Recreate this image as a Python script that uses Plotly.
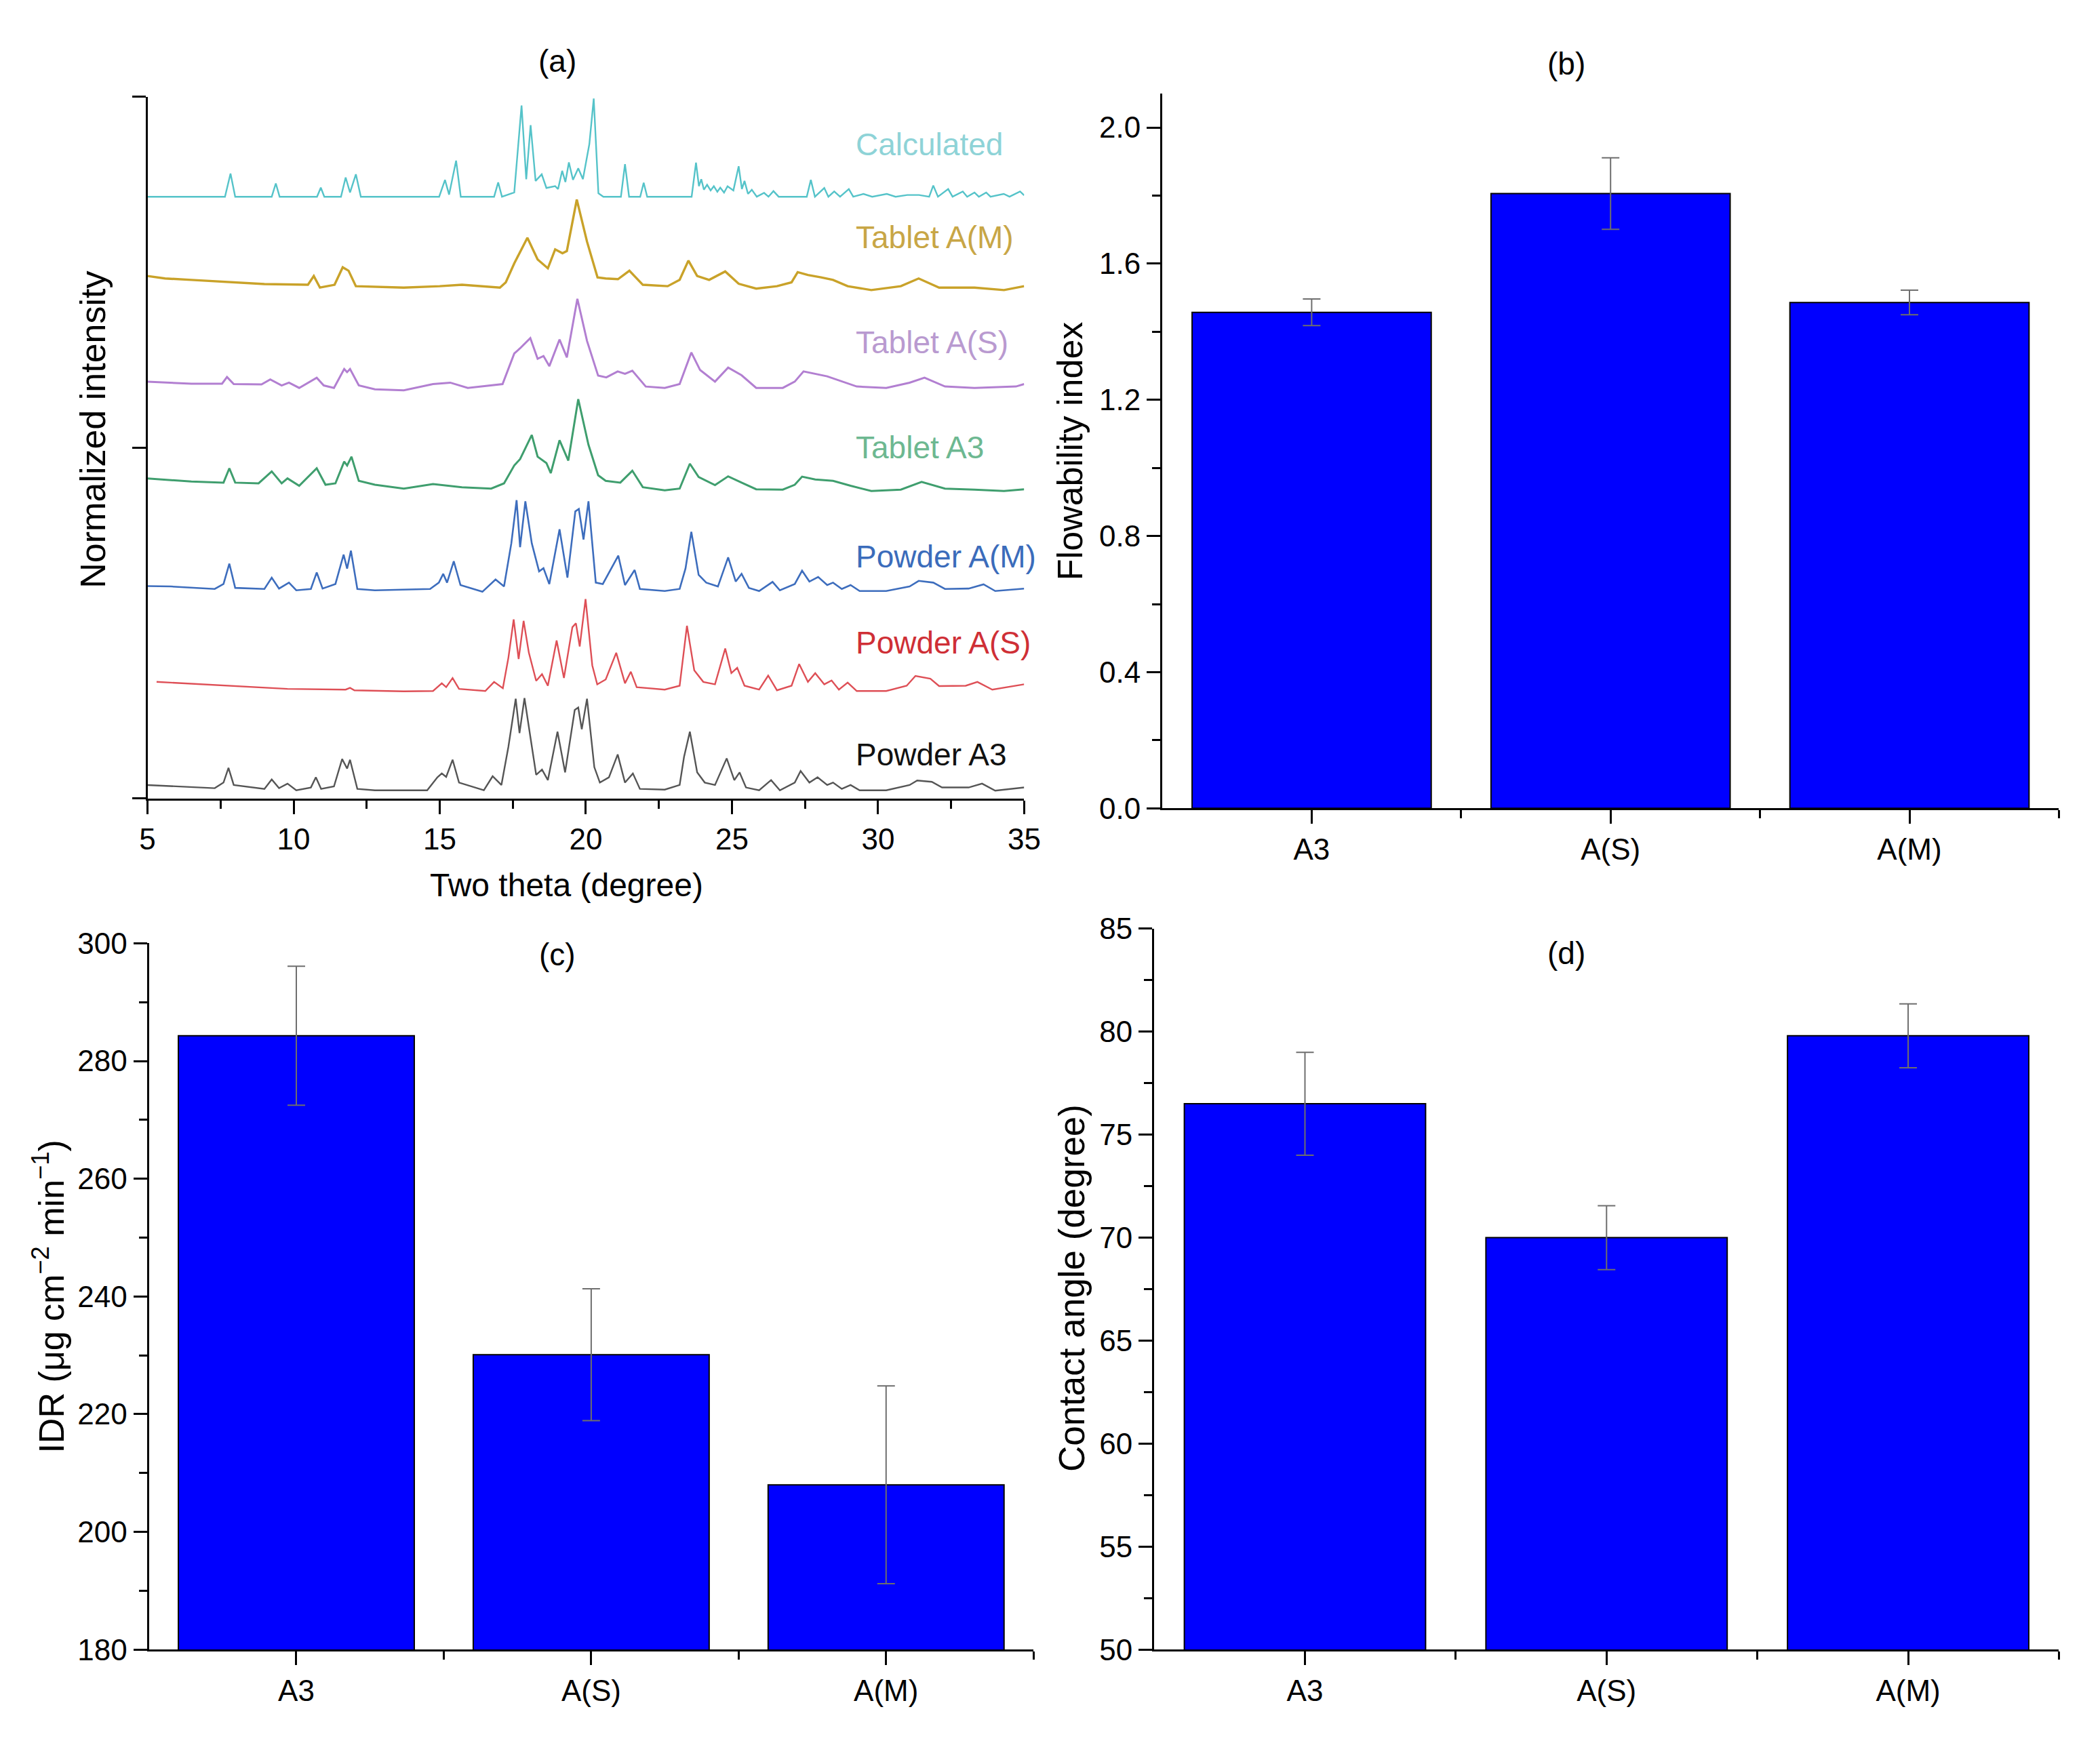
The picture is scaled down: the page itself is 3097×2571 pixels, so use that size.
import plotly.graph_objects as go

W, H = 3097, 2571

# ---------------- (a) XRD patterns ----------------
# (two theta, intensity above the pattern's own baseline)
calc_pts = [(5.0, 0), (7.65, 0), (7.84, 0.066), (8.0, 0), (9.25, 0), (9.39, 0.038), (9.52, 0),
            (10.8, 0), (10.93, 0.026), (11.05, 0), (11.62, 0), (11.78, 0.055), (11.93, 0.012),
            (12.13, 0.064), (12.3, 0), (14.98, 0), (15.18, 0.048), (15.32, 0.006), (15.56, 0.103),
            (15.72, 0), (16.86, 0), (17.0, 0.041), (17.13, 0), (17.55, 0.012), (17.8, 0.26),
            (17.96, 0.05), (18.11, 0.204), (18.28, 0.045), (18.49, 0.064), (18.65, 0.025),
            (18.95, 0.03), (19.05, 0.022), (19.19, 0.074), (19.3, 0.042), (19.42, 0.098),
            (19.56, 0.048), (19.74, 0.081), (19.9, 0.05), (20.12, 0.15), (20.27, 0.28),
            (20.43, 0.01), (20.6, 0), (21.2, 0), (21.34, 0.093), (21.48, 0), (21.86, 0),
            (21.98, 0.04), (22.1, 0), (23.62, 0), (23.77, 0.097), (23.87, 0.03), (23.95, 0.05),
            (24.04, 0.02), (24.15, 0.034), (24.27, 0.018), (24.38, 0.03), (24.5, 0.014),
            (24.6, 0.026), (24.73, 0.012), (24.85, 0.03), (25.05, 0.018), (25.23, 0.087),
            (25.34, 0.022), (25.43, 0.045), (25.55, 0.008), (25.68, 0.02), (25.85, 0),
            (26.1, 0.011), (26.25, 0), (26.42, 0.016), (26.6, 0), (27.56, 0), (27.7, 0.048),
            (27.84, 0), (28.16, 0.025), (28.3, 0), (28.5, 0.015), (28.7, 0), (29.0, 0.022),
            (29.15, 0), (29.5, 0.008), (29.8, 0), (30.3, 0.008), (30.6, 0), (31.0, 0.005),
            (31.4, 0.005), (31.75, 0), (31.89, 0.032), (32.05, 0), (32.4, 0.022), (32.55, 0),
            (32.9, 0.015), (33.05, 0), (33.3, 0.012), (33.45, 0), (33.7, 0.012), (33.85, 0),
            (34.3, 0.008), (34.5, 0), (34.86, 0.015), (35.0, 0.004)]

tab_m_pts = [(5.0, 0.029), (5.6, 0.022), (6.5, 0.018), (7.8, 0.011), (9.0, 0.006), (10.49, 0.004),
             (10.69, 0.029), (10.9, -0.004), (11.4, 0.004), (11.68, 0.054), (11.88, 0.044),
             (12.13, 0.0), (13.0, -0.002), (13.77, -0.004), (15.0, 0.0), (15.76, 0.004),
             (17.06, -0.004), (17.26, 0.011), (17.55, 0.065), (18.0, 0.138), (18.35, 0.076),
             (18.7, 0.051), (18.95, 0.105), (19.2, 0.094), (19.35, 0.1), (19.69, 0.247),
             (20.04, 0.127), (20.4, 0.025), (20.68, 0.022), (21.1, 0.02), (21.49, 0.044),
             (21.95, 0.004), (22.8, 0.0), (23.21, 0.018), (23.51, 0.073), (23.81, 0.029),
             (24.22, 0.018), (24.77, 0.042), (25.23, 0.007), (25.83, -0.007), (26.54, 0.0),
             (27.04, 0.011), (27.25, 0.04), (27.6, 0.032), (28.05, 0.025), (28.46, 0.018),
             (28.96, 0.0), (29.77, -0.011), (30.78, 0.0), (31.39, 0.022), (32.09, -0.004),
             (33.3, -0.004), (34.31, -0.011), (35.0, 0.0)]

tab_s_pts = [(5.0, 0.018), (6.5, 0.012), (7.55, 0.012), (7.72, 0.031), (7.95, 0.011), (8.9, 0.01),
             (9.2, 0.024), (9.59, 0.007), (9.84, 0.015), (10.19, 0.0), (10.79, 0.029),
             (11.03, 0.007), (11.38, 0.0), (11.73, 0.054), (11.83, 0.045), (11.93, 0.054),
             (12.23, 0.007), (12.78, -0.004), (13.77, -0.007), (14.77, 0.011), (15.36, 0.015),
             (15.96, 0.0), (17.15, 0.011), (17.55, 0.098), (17.75, 0.113), (18.1, 0.142),
             (18.35, 0.083), (18.55, 0.091), (18.75, 0.062), (19.1, 0.138), (19.35, 0.087),
             (19.71, 0.254), (20.04, 0.134), (20.42, 0.035), (20.7, 0.03), (21.09, 0.047),
             (21.34, 0.04), (21.59, 0.049), (22.05, 0.004), (22.7, 0.0), (23.21, 0.011),
             (23.61, 0.101), (23.91, 0.051), (24.42, 0.018), (24.87, 0.058), (25.33, 0.036),
             (25.83, 0.0), (26.74, 0.0), (27.15, 0.018), (27.45, 0.047), (28.26, 0.033),
             (28.76, 0.018), (29.27, 0.004), (30.28, 0.0), (31.08, 0.015), (31.59, 0.029),
             (32.29, 0.004), (33.3, 0.0), (34.72, 0.004), (35.0, 0.011)]

tab_3_pts = [(5.0, 0.025), (6.5, 0.016), (7.6, 0.013), (7.8, 0.054), (8.0, 0.013), (8.8, 0.011),
             (9.25, 0.045), (9.59, 0.011), (9.79, 0.025), (10.19, 0.004), (10.79, 0.054),
             (11.09, 0.007), (11.43, 0.011), (11.73, 0.073), (11.83, 0.062), (11.98, 0.087),
             (12.23, 0.018), (12.78, 0.007), (13.77, -0.004), (14.77, 0.009), (15.76, 0.0),
             (16.76, -0.004), (17.2, 0.011), (17.55, 0.062), (17.75, 0.08), (18.15, 0.149),
             (18.35, 0.087), (18.65, 0.069), (18.8, 0.04), (19.1, 0.134), (19.4, 0.076),
             (19.74, 0.251), (20.09, 0.121), (20.42, 0.034), (20.68, 0.018), (21.18, 0.013),
             (21.59, 0.047), (21.95, 0.0), (22.7, -0.009), (23.21, -0.004), (23.56, 0.067),
             (23.86, 0.029), (24.42, 0.006), (24.87, 0.031), (25.33, 0.013), (25.83, -0.006),
             (26.74, -0.007), (27.15, 0.007), (27.4, 0.03), (27.85, 0.022), (28.46, 0.018),
             (29.06, 0.004), (29.77, -0.011), (30.78, -0.007), (31.49, 0.015), (32.29, -0.004),
             (33.3, -0.007), (34.31, -0.011), (35.0, -0.006)]

pow_m_pts = [(5.0, 0.012), (5.8, 0.011), (7.3, 0.004), (7.6, 0.018), (7.8, 0.076), (8.0, 0.007),
             (9.0, 0.004), (9.25, 0.036), (9.5, 0.005), (9.84, 0.022), (10.09, 0.0), (10.59, 0.004),
             (10.79, 0.051), (10.99, 0.005), (11.43, 0.018), (11.71, 0.102), (11.83, 0.062),
             (11.96, 0.113), (12.18, 0.004), (12.78, 0.0), (14.67, 0.004), (14.97, 0.022),
             (15.12, 0.047), (15.25, 0.022), (15.48, 0.083), (15.71, 0.015), (16.46, -0.004),
             (16.91, 0.031), (17.2, 0.011), (17.45, 0.134), (17.63, 0.257), (17.75, 0.123),
             (17.93, 0.254), (18.15, 0.134), (18.4, 0.054), (18.55, 0.063), (18.75, 0.018),
             (19.1, 0.174), (19.37, 0.036), (19.64, 0.225), (19.76, 0.232), (19.92, 0.145),
             (20.09, 0.254), (20.34, 0.022), (20.58, 0.018), (21.11, 0.099), (21.34, 0.015),
             (21.67, 0.058), (21.85, 0.004), (22.7, -0.002), (23.21, 0.004), (23.41, 0.062),
             (23.61, 0.167), (23.86, 0.044), (24.12, 0.022), (24.52, 0.011), (24.87, 0.094),
             (25.13, 0.025), (25.33, 0.047), (25.58, 0.007), (25.93, -0.002), (26.39, 0.024),
             (26.64, 0.0), (27.15, 0.018), (27.4, 0.056), (27.65, 0.025), (27.95, 0.038),
             (28.26, 0.015), (28.46, 0.022), (28.76, 0.004), (29.06, 0.015), (29.37, -0.002),
             (30.28, -0.002), (31.08, 0.011), (31.39, 0.027), (31.89, 0.022), (32.29, 0.004),
             (33.1, 0.005), (33.61, 0.017), (34.01, -0.002), (35.0, 0.005)]

pow_s_pts = [(5.31, 0.027), (7.5, 0.017), (9.79, 0.007), (11.78, 0.005), (11.93, 0.01), (12.08, 0.003),
             (13.77, 0.0), (14.77, 0.001), (15.07, 0.023), (15.22, 0.012), (15.44, 0.038),
             (15.66, 0.007), (16.56, 0.001), (16.86, 0.027), (17.16, 0.009), (17.35, 0.096),
             (17.53, 0.205), (17.7, 0.092), (17.87, 0.201), (18.05, 0.11), (18.3, 0.03),
             (18.5, 0.049), (18.7, 0.016), (19.0, 0.145), (19.25, 0.038), (19.54, 0.183),
             (19.66, 0.194), (19.79, 0.128), (19.99, 0.263), (20.22, 0.074), (20.39, 0.02),
             (20.68, 0.034), (21.04, 0.11), (21.34, 0.023), (21.54, 0.056), (21.74, 0.012),
             (22.7, 0.005), (23.21, 0.016), (23.46, 0.187), (23.71, 0.06), (24.02, 0.027),
             (24.42, 0.02), (24.77, 0.122), (24.98, 0.052), (25.18, 0.067), (25.43, 0.016),
             (25.93, 0.005), (26.24, 0.045), (26.54, 0.003), (27.04, 0.016), (27.3, 0.078),
             (27.6, 0.027), (27.85, 0.052), (28.16, 0.02), (28.41, 0.031), (28.66, 0.005),
             (28.96, 0.025), (29.27, 0.001), (30.28, 0.001), (30.98, 0.016), (31.28, 0.044),
             (31.79, 0.036), (32.09, 0.015), (33.0, 0.016), (33.4, 0.027), (33.91, 0.005),
             (35.0, 0.02)]

pow_3_pts = [(5.0, 0.011), (7.3, 0.002), (7.6, 0.018), (7.77, 0.06), (7.95, 0.011), (9.0, 0.0),
             (9.25, 0.027), (9.5, 0.002), (9.79, 0.015), (10.09, -0.004), (10.59, 0.004),
             (10.76, 0.033), (10.94, 0.0), (11.38, 0.007), (11.66, 0.085), (11.83, 0.058),
             (11.93, 0.083), (12.18, 0.0), (12.78, -0.004), (14.57, -0.004), (14.92, 0.033),
             (15.07, 0.044), (15.22, 0.034), (15.44, 0.083), (15.66, 0.018), (16.51, -0.004),
             (16.81, 0.036), (17.11, 0.011), (17.35, 0.12), (17.6, 0.257), (17.73, 0.159),
             (17.9, 0.259), (18.1, 0.149), (18.3, 0.04), (18.5, 0.055), (18.7, 0.025),
             (19.03, 0.163), (19.29, 0.047), (19.62, 0.225), (19.74, 0.232), (19.86, 0.17),
             (20.04, 0.257), (20.29, 0.062), (20.48, 0.018), (20.79, 0.033), (21.09, 0.098),
             (21.34, 0.018), (21.61, 0.044), (21.85, 0.0), (22.7, -0.002), (23.21, 0.011),
             (23.36, 0.091), (23.56, 0.163), (23.81, 0.047), (24.07, 0.018), (24.42, 0.011),
             (24.82, 0.087), (25.08, 0.025), (25.26, 0.047), (25.48, 0.004), (25.93, -0.004),
             (26.34, 0.025), (26.64, -0.004), (27.15, 0.018), (27.35, 0.051), (27.65, 0.018),
             (27.93, 0.033), (28.26, 0.011), (28.46, 0.018), (28.76, 0.0), (29.06, 0.011),
             (29.37, -0.004), (30.28, -0.004), (31.08, 0.011), (31.34, 0.024), (31.84, 0.02),
             (32.19, 0.004), (33.1, 0.004), (33.56, 0.015), (34.01, -0.005), (35.0, 0.004)]

xrd_names = ["Calculated", "Tablet A(M)", "Tablet A(S)", "Tablet A3",
             "Powder A(M)", "Powder A(S)", "Powder A3"]
xrd_data = [calc_pts, tab_m_pts, tab_s_pts, tab_3_pts, pow_m_pts, pow_s_pts, pow_3_pts]
xrd_offsets = [1.715, 1.46, 1.17, 0.887, 0.593, 0.305, 0.027]
xrd_label_y = [1.865, 1.60, 1.30, 1.0, 0.69, 0.444, 0.125]
line_colors = ["#55c3c9", "#c9a229", "#b27fd1", "#3f9e6e", "#3d6dbd", "#de4f56", "#555555"]
label_colors = ["#8ed3d7", "#c8a646", "#b99ad0", "#6db891", "#3b6cbb", "#cf2f36", "#111111"]
line_widths = [2.4, 3.4, 3.0, 3.0, 2.6, 2.4, 2.4]

# ---------------- (b)-(d) bar charts ----------------
samples = ["A3", "A(S)", "A(M)"]
flow_mean = [1.457, 1.806, 1.486]
flow_err = [0.039, 0.105, 0.036]
idr_mean = [284.3, 230.1, 208.0]
idr_err = [11.8, 11.2, 16.8]
angle_mean = [76.5, 70.0, 79.8]
angle_err = [2.5, 1.55, 1.55]

FONT = "Liberation Sans, Arial, sans-serif"
BLUE = "#0000ff"


def fx(px):
    return px / W


def fy(py):
    return 1 - py / H


fig = go.Figure()

for name, pts, off, col, lw in zip(xrd_names, xrd_data, xrd_offsets, line_colors, line_widths):
    xs = [p[0] for p in pts]
    ys = [p[1] + off for p in pts]
    fig.add_trace(go.Scatter(x=xs, y=ys, mode="lines", name=name,
                             line=dict(color=col, width=lw), xaxis="x", yaxis="y"))

idx = list(range(len(samples)))
for (mean, err), ax in zip([(flow_mean, flow_err), (idr_mean, idr_err), (angle_mean, angle_err)],
                           ["2", "3", "4"]):
    fig.add_trace(go.Bar(x=idx, y=mean, width=0.8, xaxis="x" + ax, yaxis="y" + ax,
                         marker=dict(color=BLUE, line=dict(color="black", width=2)),
                         error_y=dict(type="data", array=err, color="#6e6e6e",
                                      thickness=2, width=13)))

base = dict(showline=True, linecolor="black", linewidth=3, ticks="outside", ticklen=20,
            tickwidth=3, tickcolor="black", showgrid=False, zeroline=False,
            tickfont=dict(family=FONT, size=44, color="black"))
minor = dict(ticks="outside", ticklen=12, tickwidth=3, tickcolor="black", showgrid=False)


def bar_x(domain, anchor):
    return dict(base, domain=domain, anchor=anchor, range=[-0.5, 2.5], tickvals=idx,
                ticktext=samples, minor=dict(minor, tickvals=[0.5, 1.5, 2.5]))


fig.update_layout(
    width=W, height=H, margin=dict(l=0, r=0, t=0, b=0),
    paper_bgcolor="white", plot_bgcolor="white", showlegend=False,
    font=dict(family=FONT, color="black"),
    xaxis=dict(base, domain=[fx(208), fx(1516)], anchor="y", range=[5, 35], dtick=5, tick0=5,
               minor=dict(minor, dtick=2.5, tick0=5)),
    yaxis=dict(base, domain=[fy(1175), fy(120)], anchor="x", range=[0, 2],
               tickvals=[0, 1, 2], showticklabels=False),
    xaxis2=bar_x([fx(1722), fx(3060)], "y2"),
    yaxis2=dict(base, domain=[fy(1190), fy(115)], anchor="x2", range=[0, 2.1], dtick=0.4,
                tickformat=".1f", minor=dict(minor, dtick=0.2)),
    xaxis3=bar_x([fx(210), fx(1530)], "y3"),
    yaxis3=dict(base, domain=[fy(2455), fy(1393)], anchor="x3", range=[180, 300], dtick=20,
                minor=dict(minor, dtick=10)),
    xaxis4=bar_x([fx(1710), fx(3060)], "y4"),
    yaxis4=dict(base, domain=[fy(2455), fy(1371)], anchor="x4", range=[50, 85], dtick=5,
                minor=dict(minor, dtick=2.5)),
)

notes = [
    ("(a)", 820, 66, 0, 46), ("(b)", 2325, 70, 0, 46),
    ("(c)", 820, 1410, 0, 46), ("(d)", 2325, 1408, 0, 46),
    ("Normalized intensity", 127, 621, -90, 52),
    ("Two theta (degree)", 833, 1305, 0, 48),
    ("Flowability index", 1584, 653, -90, 52),
    ("IDR (μg cm<sup>−2</sup> min<sup>−1</sup>)", 61, 1924, -90, 52),
    ("Contact angle (degree)", 1587, 1912, -90, 53),
]
for text, x, y, ang, size in notes:
    fig.add_annotation(text=text, x=fx(x), y=fy(y), xref="paper", yref="paper",
                       showarrow=False, textangle=ang, xanchor="center", yanchor="middle",
                       font=dict(family=FONT, size=size, color="black"))

for name, ly, col in zip(xrd_names, xrd_label_y, label_colors):
    fig.add_annotation(text=name, x=29.2, y=ly, xref="x", yref="y", showarrow=False,
                       xanchor="left", yanchor="middle",
                       font=dict(family=FONT, size=46, color=col))

page_fix = ("document.documentElement.style.margin='0';document.body.style.margin='0';"
            "document.documentElement.style.overflow='hidden';document.body.style.overflow='hidden';")
fig.write_html("out.html", config={"displayModeBar": False}, post_script=page_fix)
